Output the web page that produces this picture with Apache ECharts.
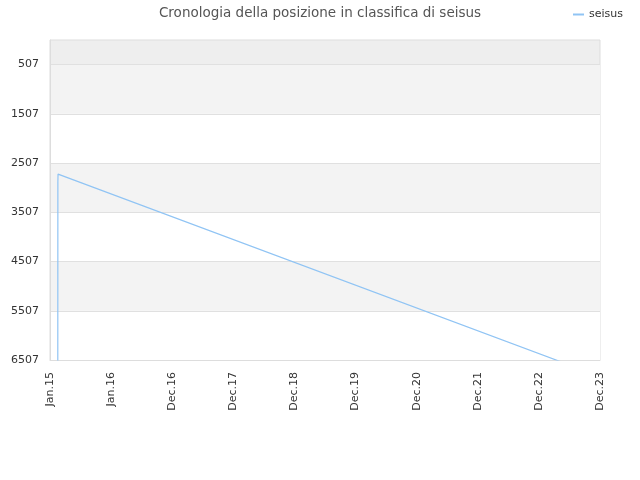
<!DOCTYPE html>
<html><head><meta charset="utf-8">
<script src="https://cdn.jsdelivr.net/npm/echarts@6/dist/echarts.min.js"></script>
<style>html,body{margin:0;padding:0;background:#fff}#c{width:640px;height:480px}</style>
</head><body><div id="c"></div>
<script>
var titleText = 'Cronologia della posizione in classifica di seisus';
var seriesName = 'seisus';
var dates = ['2015-02-16', '2015-02-17', '2015-02-18', '2023-12-30'];
var ranks = [12000, 2900, 2731, 6840];
var yTicks = [507, 1507, 2507, 3507, 4507, 5507, 6507];
var xTickLabels = ['Jan.15', 'Jan.16', 'Dec.16', 'Dec.17', 'Dec.18', 'Dec.19', 'Dec.20', 'Dec.21', 'Dec.22', 'Dec.23'];
var xStart = '2015-01-01';
var DAY = 86400000;

var t0 = Date.parse(xStart + 'T00:00:00Z');
var data = dates.map(function (d, i) { return [Date.parse(d + 'T00:00:00Z'), ranks[i]]; });

var chart = echarts.init(document.getElementById('c'));
chart.setOption({
  animation: false,
  title: { text: titleText, left: 'center', top: 1, textStyle: { fontSize: 13.5, fontWeight: 'normal', color: '#555', fontFamily: 'DejaVu Sans' } },
  legend: { right: 12, top: 4, itemWidth: 11, itemHeight: 2, itemGap: 8, icon: 'rect', textStyle: { fontSize: 11, color: '#333', fontFamily: 'DejaVu Sans' }, data: [seriesName] },
  grid: { left: 50, right: 40, top: 40, bottom: 120, show: true, backgroundColor: '#eeeeee', borderColor: '#dddddd', borderWidth: 1 },
  xAxis: {
    type: 'value', min: t0, max: t0 + 9 * 365 * DAY, interval: 365 * DAY,
    axisLine: { show: true, lineStyle: { color: '#ddd' } },
    axisTick: { show: false },
    splitLine: { show: false },
    axisLabel: { rotate: 90, fontSize: 11, color: '#333', fontFamily: 'DejaVu Sans', margin: 12,
      showMinLabel: true, showMaxLabel: true,
      formatter: function (v) { var i = Math.round((v - t0) / (365 * DAY)); return xTickLabels[i] || ''; } }
  },
  yAxis: {
    type: 'value', inverse: true, min: 7, max: 6507,
    axisLine: { show: true, lineStyle: { color: '#ddd' } },
    axisTick: { show: false, customValues: yTicks },
    axisLabel: { customValues: yTicks, fontSize: 11, color: '#333', fontFamily: 'DejaVu Sans', margin: 11,
      formatter: function (v) { return String(v); } },
    splitLine: { show: true, lineStyle: { color: '#e0e0e0' } },
    splitArea: { show: true, areaStyle: { color: ['#f3f3f3', '#ffffff'] } }
  },
  series: [{
    name: seriesName, type: 'line', data: data, showSymbol: false, symbol: 'none',
    lineStyle: { color: '#90c4f4', width: 1.2 }, itemStyle: { color: '#90c4f4' }, clip: true
  }]
});
</script></body></html>
